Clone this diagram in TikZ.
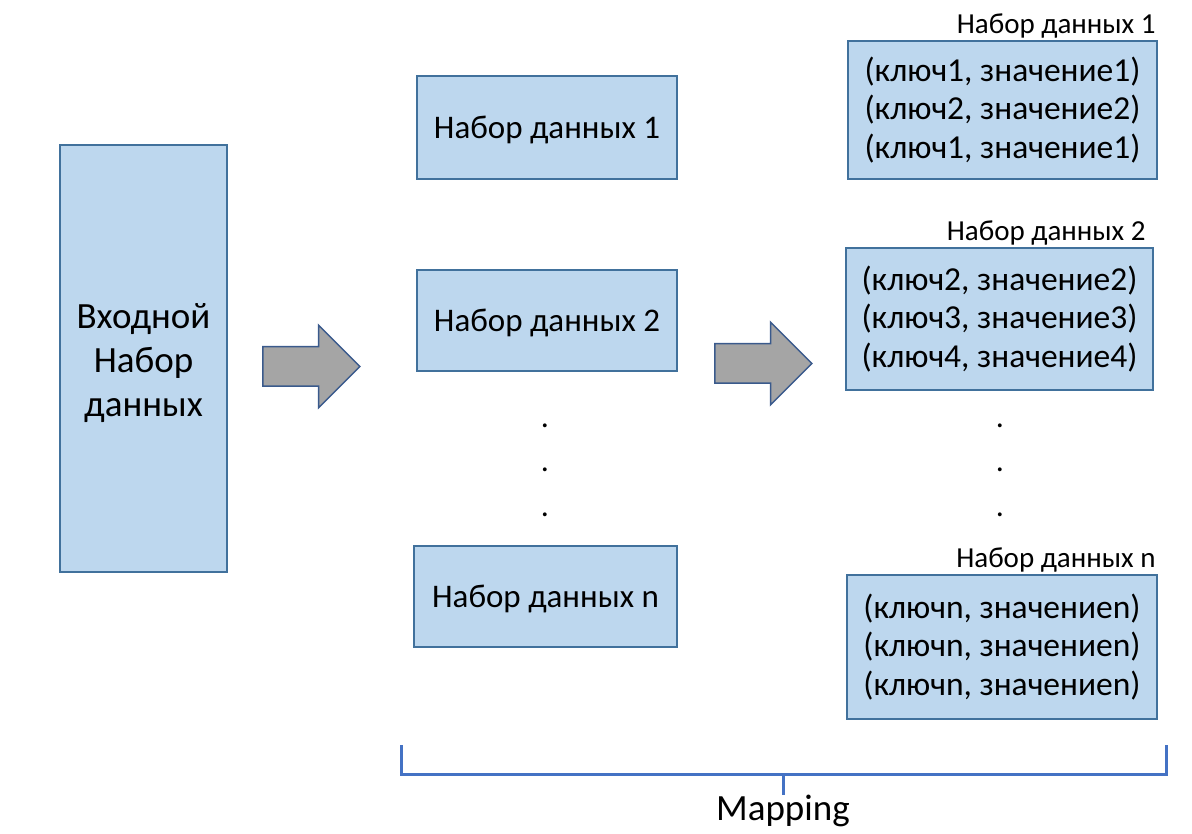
\documentclass[tikz,border=0pt]{standalone}
\usepackage{fontspec}
\setmainfont{Carlito}
\usepackage{tikz}
\usetikzlibrary{positioning,shapes,calc}

\definecolor{boxfill}{HTML}{BDD7EE}
\definecolor{boxline}{HTML}{41719C}
\definecolor{arrowfill}{HTML}{A5A5A5}
\definecolor{arrowline}{HTML}{3A5A8C}
\definecolor{braceline}{HTML}{4472C4}

\begin{document}
\begin{tikzpicture}[x=1pt,y=-1pt]

		\tikzset{boxstyle/.style={draw=boxline,fill=boxfill,line width=1.5pt,inner sep=0pt,align=center,font=\fontsize{33}{38}\selectfont}}
		\tikzset{splitstyle/.style={boxstyle,text depth=0pt}}
		\tikzset{pairstyle/.style={boxstyle,font=\fontsize{33.5}{38.5}\selectfont}}
		\tikzset{setlabel/.style={anchor=south east,inner sep=2pt,font=\fontsize{29}{34}\selectfont}}
		\tikzset{bigarrow/.style={draw=arrowline,fill=arrowfill,line width=1.5pt,single arrow,single arrow head extend=21.5pt,single arrow head indent=0pt,minimum height=97pt,inner xsep=0pt,inner ysep=19pt}}
		\tikzset{dotstyle/.style={inner sep=0pt,font=\fontsize{32}{37}\selectfont}}

		\useasboundingbox (0,0) rectangle (1192,834);

		\newcommand\makeDots[2] % {name}{x}
		{
			\node[dotstyle] at (#2,426) (#11) {.};
			\node[dotstyle] at (#2,470) (#12) {.};
			\node[dotstyle] at (#2,515) (#13) {.};
		}

		% input set
		\node[boxstyle,minimum width=167pt,minimum height=427pt] at (143.5,358.5) (input) {};
		\node[align=center,inner sep=0pt,font=\fontsize{37}{44}\selectfont] at (143.5,363.5) (inputtext) {Входной\\Набор\\данных};

		% splits
		\node[splitstyle,minimum width=260pt,minimum height=103pt] at (547,127.5) (split1) {Набор данных 1};
		\node[splitstyle,minimum width=260pt,minimum height=101pt] at (547,320.5) (split2) {Набор данных 2};
		\node[splitstyle,minimum width=263pt,minimum height=101pt] at (545.5,596.5) (splitn) {Набор данных n};
		\makeDots{sdot}{545}

		% pairs
		\node[pairstyle,minimum width=309pt,minimum height=138pt,
		label={[setlabel]north east:Набор данных 1}] at (1002.5,110) (map1)
		{(ключ1, значение1)\\(ключ2, значение2)\\(ключ1, значение1)};
		\node[pairstyle,minimum width=307pt,minimum height=142pt,
		label={[setlabel,xshift=-6pt]north east:Набор данных 2}] at (999.5,319) (map2)
		{(ключ2, значение2)\\(ключ3, значение3)\\(ключ4, значение4)};
		\node[pairstyle,minimum width=310pt,minimum height=144pt,
		label={[setlabel]north east:Набор данных n}] at (1002,647) (mapn)
		{(ключn, значениеn)\\(ключn, значениеn)\\(ключn, значениеn)};
		\makeDots{mdot}{1000}

		% arrows
		\node[bigarrow] at (301.5,366.5) (arrowA) {};
		\node[bigarrow] at (753.5,363.5) (arrowB) {};

		% bracket
		\coordinate (bl) at (401,745);
		\coordinate (br) at (1166,745);
		\coordinate (bm) at (783,774);
		\node[inner sep=0pt,anchor=north,font=\fontsize{37}{44}\selectfont] at (783,795) (mapping) {Mapping};
		\draw[braceline,line width=3pt]
		(bl) |- (br |- bm) -- (br)
		(bm) -- (mapping.north);
	\end{tikzpicture}
\end{document}
